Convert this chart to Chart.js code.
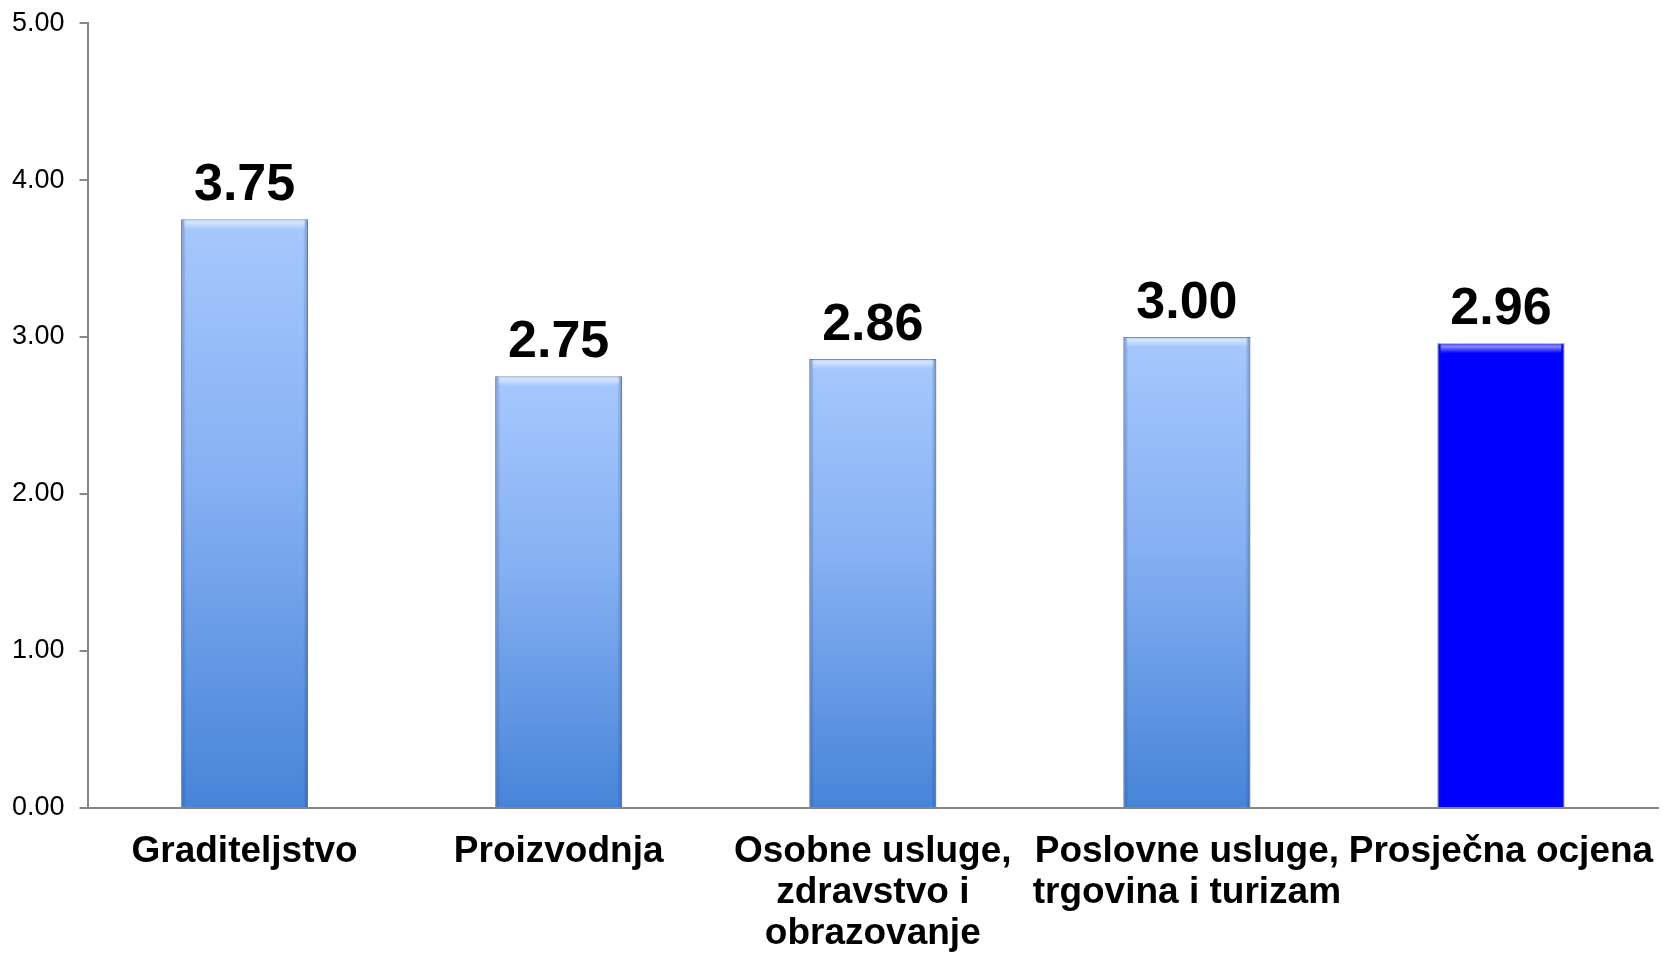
<!DOCTYPE html>
<html>
<head>
<meta charset="utf-8">
<script src="https://cdn.jsdelivr.net/npm/chart.js@4/dist/chart.umd.min.js"></script>
<style>
  html, body { margin: 0; padding: 0; background: #ffffff; }
  #wrap { width: 1663px; height: 958px; position: relative; }
</style>
</head>
<body>
<div id="wrap"><canvas id="c" width="1663" height="958"></canvas></div>
<script>
const categories = [
  "Graditeljstvo",
  "Proizvodnja",
  ["Osobne usluge,", "zdravstvo i", "obrazovanje"],
  ["Poslovne usluge,", "trgovina i turizam"],
  "Prosječna ocjena"
];
const values = [3.75, 2.75, 2.86, 3.00, 2.96];
const valueLabels = ["3.75", "2.75", "2.86", "3.00", "2.96"];
const highlighted = [false, false, false, false, true];
const yTicks = [0, 1, 2, 3, 4, 5];

function barFill(ctx) {
  const chart = ctx.chart;
  const y = chart.scales && chart.scales.y;
  if (!y || ctx.type !== 'data') return '#80abf0';
  if (highlighted[ctx.dataIndex]) return '#0000ff';
  const top = y.getPixelForValue(values[ctx.dataIndex]);
  const bot = y.getPixelForValue(0);
  if (!isFinite(top) || !isFinite(bot) || top === bot) return '#80abf0';
  const g = chart.ctx.createLinearGradient(0, top, 0, bot);
  g.addColorStop(0, '#a6c8fd');
  g.addColorStop(0.45, '#85b0f2');
  g.addColorStop(1, '#4784d8');
  return g;
}

const valueLabelPlugin = {
  id: 'valueLabels',
  afterDatasetsDraw(chart) {
    const meta = chart.getDatasetMeta(0);
    const c = chart.ctx;
    c.save();
    c.font = 'bold 52px "Liberation Sans", Arial, sans-serif';
    c.fillStyle = '#000000';
    c.textAlign = 'center';
    c.textBaseline = 'alphabetic';
    meta.data.forEach((bar, i) => {
      c.fillText(valueLabels[i], bar.x, bar.y - 19);
    });
    c.restore();
  }
};

const bevelPlugin = {
  id: 'bevel',
  afterDatasetsDraw(chart) {
    const meta = chart.getDatasetMeta(0);
    const c = chart.ctx;
    c.save();
    meta.data.forEach((bar, i) => {
      const half = bar.width / 2;
      const l = bar.x - half, r = bar.x + half, t = bar.y, b = bar.base;
      const g = c.createLinearGradient(0, t, 0, t + 10);
      g.addColorStop(0, 'rgba(255,255,255,0.05)');
      g.addColorStop(0.3, 'rgba(255,255,255,0.55)');
      g.addColorStop(1, 'rgba(255,255,255,0)');
      c.fillStyle = g;
      c.fillRect(l + 3, t + 1, r - l - 6, 9);
      const sl = c.createLinearGradient(l, 0, l + 5, 0);
      sl.addColorStop(0, 'rgba(30,50,110,0.35)');
      sl.addColorStop(1, 'rgba(30,50,110,0)');
      c.fillStyle = sl;
      c.fillRect(l, t, 5, b - t);
      const sr = c.createLinearGradient(r, 0, r - 5, 0);
      sr.addColorStop(0, 'rgba(30,50,110,0.35)');
      sr.addColorStop(1, 'rgba(30,50,110,0)');
      c.fillStyle = sr;
      c.fillRect(r - 5, t, 5, b - t);
    });
    c.restore();
  }
};

new Chart(document.getElementById('c'), {
  type: 'bar',
  data: {
    labels: categories,
    datasets: [{
      data: values,
      backgroundColor: barFill,
      borderColor: 'rgba(90,120,175,0.8)',
      borderWidth: 1,
      barPercentage: 0.404,
      categoryPercentage: 1.0
    }]
  },
  options: {
    responsive: false,
    animation: false,
    devicePixelRatio: 1,
    layout: { padding: { left: -3, right: 5, top: 0, bottom: -20 } },
    plugins: {
      legend: { display: false },
      tooltip: { enabled: false },
      title: { display: false }
    },
    scales: {
      x: {
        afterFit(scale) { scale.paddingRight = 0; scale.paddingLeft = 0; },
        grid: { display: false, drawTicks: false },
        border: { display: true, color: '#868686', width: 2 },
        ticks: {
          color: '#000000',
          padding: 24,
          maxRotation: 0,
          autoSkip: false,
          font: { family: '"Liberation Sans", Arial, sans-serif', size: 37, weight: 'bold', lineHeight: 1.1 }
        }
      },
      y: {
        min: 0,
        max: 5,
        afterBuildTicks(axis) { axis.ticks = yTicks.map(v => ({ value: v })); },
        grid: { drawOnChartArea: false, drawTicks: true, tickLength: 8, color: '#868686', lineWidth: 2 },
        border: { display: true, color: '#868686', width: 2 },
        ticks: {
          color: '#000000',
          padding: 15,
          font: { family: '"Liberation Sans", Arial, sans-serif', size: 27, lineHeight: 0.6 },
          callback: (v) => Number(v).toFixed(2)
        }
      }
    }
  },
  plugins: [valueLabelPlugin, bevelPlugin]
});
</script>
</body>
</html>
